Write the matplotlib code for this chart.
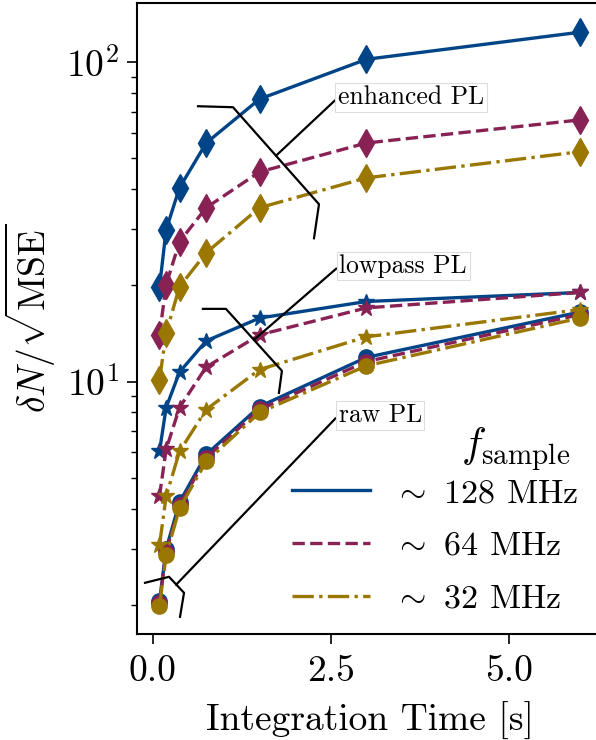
import matplotlib
matplotlib.use("Agg")
import matplotlib.pyplot as plt
from matplotlib.lines import Line2D

plt.rcParams['font.family'] = 'serif'
plt.rcParams['font.serif'] = ['cmr10']
plt.rcParams['mathtext.fontset'] = 'cm'
plt.rcParams['axes.formatter.use_mathtext'] = True

# integration times [s]
t_int = [0.09375, 0.1875, 0.375, 0.75, 1.5, 3.0, 6.0]

# enhanced PL (diamonds)
enh_128 = [19.7, 29.9, 40.4, 55.8, 76.6, 102, 124]
enh_64 = [14.0, 20.1, 27.4, 35.0, 45.3, 55.8, 65.9]
enh_32 = [10.1, 14.2, 19.8, 25.3, 35.0, 43.4, 52.4]

# lowpass PL (stars)
low_128 = [6.04, 8.29, 10.7, 13.4, 15.8, 17.8, 19.0]
low_64 = [4.38, 6.13, 8.29, 11.1, 14.0, 17.0, 19.0]
low_32 = [3.07, 4.38, 6.04, 8.17, 10.9, 13.8, 16.8]

# raw PL (circles)
raw_128 = [2.05, 2.99, 4.19, 5.91, 8.35, 11.9, 16.5]
raw_64 = [2.02, 2.93, 4.10, 5.77, 8.18, 11.55, 16.2]
raw_32 = [1.98, 2.86, 4.01, 5.62, 8.00, 11.2, 15.8]

f_labels = [r'$\sim$ 128 MHz', r'$\sim$ 64 MHz', r'$\sim$ 32 MHz']
colors = ['#004488', '#882255', '#997700']
styles = ['-', '--', '-.']

fig = plt.figure(figsize=(5.96, 7.4), dpi=100)
ax = fig.add_axes([0.2307, 0.1432, 0.7784, 0.8527])

groups = [
    ('o', 11, [raw_128, raw_64, raw_32]),
    ('*', 12, [low_128, low_64, low_32]),
    ('d', 14, [enh_128, enh_64, enh_32]),
]
for marker, ms, series in groups:
    for vals, c, ls in zip(series, colors, styles):
        ax.plot(t_int, vals, color=c, ls=ls, lw=2.4, marker=marker, ms=ms)

ax.set_yscale('log')
ax.set_xlim(-0.215, 6.3)
ax.set_ylim(1.62, 153)
ax.set_xticks([0.0, 2.5, 5.0])
ax.set_xticklabels(['0.0', '2.5', '5.0'])
ax.tick_params(axis='both', which='major', labelsize=27, length=7, width=1.2)
ax.tick_params(axis='x', which='major', pad=8)
ax.tick_params(axis='y', which='major', pad=6)
ax.tick_params(axis='y', which='minor', length=4, width=1.0)
for s in ax.spines.values():
    s.set_linewidth(1.5)

ax.set_xlabel('Integration Time [s]', fontsize=27, labelpad=10)
ax.set_ylabel(r'$\delta N/\sqrt{\mathrm{MSE}}$', fontsize=27, labelpad=6)

# annotations: text box, connector, bracket (bracket shape in pixel offsets)
notes = [
    ('enhanced PL', (1.73, 50.9), (2.60, 77.4),
     [(-78, -49.5), (-43, -48.5), (43, 48.5), (38, 82.5)]),
    ('lowpass PL', (1.42, 13.5), (2.62, 23.0),
     [(-51, -31), (-28, -31), (28, 31), (25, 53)]),
    ('raw PL', (0.326, 2.31), (2.61, 7.85),
     [(-31, -2), (-7, -8), (8, 8), (4, 32)]),
]
for txt, xy, xytext, offs in notes:
    ax.annotate(txt, xy=xy, xytext=xytext, fontsize=18.5, ha='left', va='center',
                bbox=dict(boxstyle='square,pad=0.1', fc='white', ec='#dddddd', lw=0.8),
                arrowprops=dict(arrowstyle='-', color='black', lw=1.6,
                                relpos=(0, 0.5), shrinkA=0, shrinkB=0))
    cx, cy = ax.transData.transform(xy)
    pts = ax.transData.inverted().transform([(cx + dx, cy - dy) for dx, dy in offs])
    ax.plot(pts[:, 0], pts[:, 1], color='black', lw=1.6, clip_on=False)

handles = [Line2D([], [], color=c, ls=ls, lw=2.4) for c, ls in zip(colors, styles)]
leg = ax.legend(handles, f_labels, fontsize=24.5, frameon=False, loc='lower right',
                bbox_to_anchor=(1.0155, -0.016), handlelength=2.3, labelspacing=0.67,
                handletextpad=0.7)
ax.text(0.932, 0.279, r'$f_\mathrm{sample}$', transform=ax.transAxes,
        fontsize=30, ha='right', va='baseline')

fig.savefig('out.png', dpi=100)
